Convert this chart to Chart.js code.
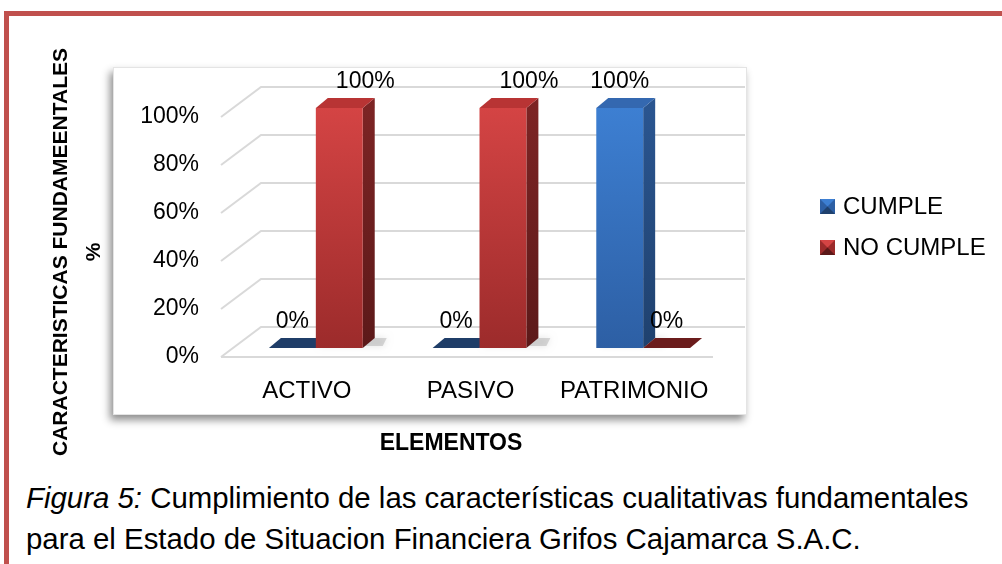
<!DOCTYPE html>
<html>
<head>
<meta charset="utf-8">
<script src="https://cdn.jsdelivr.net/npm/chart.js@4.4.1/dist/chart.umd.min.js"></script>
<style>
  html, body { margin: 0; padding: 0; background: #fff; }
  body { width: 1002px; height: 564px; position: relative; overflow: hidden; font-family: "Liberation Sans", Arial, sans-serif; }
  #frame { position: absolute; left: 4px; top: 11px; width: 1100px; height: 700px; border-top: 5px solid #c0504d; border-left: 5px solid #c0504d; }
  #chart-wrap { position: absolute; left: 0; top: 0; width: 1002px; height: 470px; }
  #caption { position: absolute; left: 26px; top: 477px; font-size: 29.4px; line-height: 41px; color: #000; white-space: nowrap; }
</style>
</head>
<body>
<div id="frame"></div>
<div id="chart-wrap"><canvas id="elementos-chart" width="1002" height="470"></canvas></div>
<div id="caption"><i>Figura 5:</i> Cumplimiento de las características cualitativas fundamentales<br>para el Estado de Situacion Financiera Grifos Cajamarca S.A.C.</div>

<script>
const categories = ['ACTIVO', 'PASIVO', 'PATRIMONIO'];
const seriesNames = ['CUMPLE', 'NO CUMPLE'];
const cumpleValues = [0, 0, 100];
const noCumpleValues = [100, 100, 0];
const yTicks = [0, 20, 40, 60, 80, 100];
const yTitle = 'CARACTERISTICAS FUNDAMEENTALES';
const xTitle = 'ELEMENTOS';

const FONT = '"Liberation Sans", Arial, sans-serif';
Chart.defaults.font.family = FONT;

// look of the fake 3d
const SHIFT = { x: 9, y: -9 };      // bars sit a bit behind the front floor edge
const DEPTH = { x: 12, y: -10 };    // bar depth
const BACK = { x: 40, y: -30 };     // back wall offset

const palette = [
    { top: '#3d7fd2', bottom: '#2d5fa4', side: ['#2a5590', '#1f416e'], cap: '#3468b0', flat: '#1f3d68' },
    { top: '#d44444', bottom: '#9c2b2b', side: ['#7c2424', '#5c1919'], cap: '#b83434', flat: '#6b1c1c' }
];

function frontFill(idx) {
    return (c) => {
        const area = c.chart.chartArea;
        if (!area) return palette[idx].top;
        const g = c.chart.ctx.createLinearGradient(0, area.top, 0, area.bottom);
        g.addColorStop(0, palette[idx].top);
        g.addColorStop(1, palette[idx].bottom);
        return g;
    };
}

function poly(ctx, pts, fill) {
    ctx.beginPath();
    ctx.moveTo(pts[0][0], pts[0][1]);
    for (let i = 1; i < pts.length; i++) ctx.lineTo(pts[i][0], pts[i][1]);
    ctx.closePath();
    ctx.fillStyle = fill;
    ctx.fill();
}

const box3d = {
    id: 'box3d',
    beforeDraw(chart) {
        const ctx = chart.ctx;
        const area = chart.chartArea;
        const y = chart.scales.y;

        // plot box with its shadow
        ctx.save();
        ctx.shadowColor = 'rgba(0,0,0,0.45)';
        ctx.shadowBlur = 8;
        ctx.shadowOffsetX = -3;
        ctx.shadowOffsetY = 5;
        ctx.fillStyle = '#fff';
        ctx.fillRect(113, 67, 634, 348);
        ctx.restore();
        ctx.strokeStyle = '#e4e4e4';
        ctx.lineWidth = 1;
        ctx.strokeRect(113.5, 67.5, 633, 347);

        // back wall grid lines
        const x0 = area.left - 4;
        ctx.save();
        ctx.strokeStyle = '#d9d9d9';
        ctx.lineWidth = 2;
        yTicks.forEach(v => {
            const py = y.getPixelForValue(v);
            ctx.beginPath();
            ctx.moveTo(x0, py);
            ctx.lineTo(x0 + BACK.x, py + BACK.y);
            ctx.lineTo(745, py + BACK.y);
            ctx.stroke();
        });
        // floor front edge
        const p0 = y.getPixelForValue(0);
        ctx.beginPath();
        ctx.moveTo(x0, p0);
        ctx.lineTo(area.right - 3, p0);
        ctx.stroke();
        ctx.restore();
    },
    beforeDatasetsDraw(chart) {
        const ctx = chart.ctx;
        ctx.save();
        ctx.translate(SHIFT.x, SHIFT.y);
        // top and side faces first, chart draws the front faces over them
        chart.data.datasets.forEach((ds, di) => {
            const meta = chart.getDatasetMeta(di);
            meta.data.forEach((bar, i) => {
                const p = bar.getProps(['x', 'y', 'base', 'width'], true);
                const l = p.x - p.width / 2, r = p.x + p.width / 2;
                const top = Math.min(p.y, p.base), bot = p.base;
                const col = palette[di];
                if (ds.data[i] === 0) {
                    poly(ctx, [[l, bot], [r, bot], [r + DEPTH.x, bot + DEPTH.y], [l + DEPTH.x, bot + DEPTH.y]], col.flat);
                    return;
                }
                // soft shadow on the floor
                ctx.save();
                ctx.shadowColor = 'rgba(0,0,0,0.3)';
                ctx.shadowBlur = 7;
                poly(ctx, [[l + 4, bot - 2], [r + DEPTH.x + 8, bot - 2], [r + DEPTH.x + 12, bot + DEPTH.y], [l + 8, bot + DEPTH.y]], 'rgba(150,150,150,0.35)');
                ctx.restore();
                const g = ctx.createLinearGradient(0, top, 0, bot);
                g.addColorStop(0, col.side[0]);
                g.addColorStop(1, col.side[1]);
                poly(ctx, [[r, top], [r + DEPTH.x, top + DEPTH.y], [r + DEPTH.x, bot + DEPTH.y], [r, bot]], g);
                poly(ctx, [[l, top], [r, top], [r + DEPTH.x, top + DEPTH.y], [l + DEPTH.x, top + DEPTH.y]], col.cap);
            });
        });
    },
    afterDatasetsDraw(chart) {
        const ctx = chart.ctx;
        ctx.restore();

        // value labels
        ctx.save();
        ctx.fillStyle = '#000';
        ctx.font = '23px ' + FONT;
        ctx.textAlign = 'center';
        ctx.textBaseline = 'middle';
        chart.data.datasets.forEach((ds, di) => {
            chart.getDatasetMeta(di).data.forEach((bar, i) => {
                const v = ds.data[i];
                const dx = (di === 1 && v > 0) ? 26 : 0;
                ctx.fillText(v + '%', bar.x + SHIFT.x + dx, bar.y + SHIFT.y - 26);
            });
        });
        ctx.restore();
    },
    afterDraw(chart) {
        const ctx = chart.ctx;
        ctx.save();
        ctx.fillStyle = '#000';
        ctx.textAlign = 'center';
        ctx.textBaseline = 'middle';

        // axis titles
        ctx.font = 'bold 23px ' + FONT;
        ctx.fillText(xTitle, 451, 444);

        ctx.save();
        ctx.translate(61, 252);
        ctx.rotate(-Math.PI / 2);
        ctx.font = 'bold 21px ' + FONT;
        ctx.fillText(yTitle, 0, 0);
        ctx.fillText('%', 0, 33);
        ctx.restore();

        // legend
        ctx.textAlign = 'left';
        ctx.font = '24px ' + FONT;
        chart.data.datasets.forEach((ds, di) => {
            const sx = 820, sy = 199 + di * 41, s = 15;
            const col = palette[di];
            ctx.fillStyle = col.bottom;
            ctx.fillRect(sx, sy, s, s);
            poly(ctx, [[sx, sy], [sx + s, sy], [sx + s / 2, sy + s / 2]], col.top);
            poly(ctx, [[sx, sy + s], [sx + s, sy + s], [sx + s / 2, sy + s / 2]], col.side[1]);
            ctx.fillStyle = '#000';
            ctx.fillText(ds.label, 843, sy + 8);
        });
        ctx.restore();
    }
};

new Chart(document.getElementById('elementos-chart'), {
    type: 'bar',
    data: {
        labels: categories,
        datasets: [
            { label: seriesNames[0], data: cumpleValues, backgroundColor: frontFill(0), categoryPercentage: 0.573, barPercentage: 1 },
            { label: seriesNames[1], data: noCumpleValues, backgroundColor: frontFill(1), categoryPercentage: 0.573, barPercentage: 1 }
        ]
    },
    options: {
        responsive: false,
        animation: false,
        layout: { padding: { left: 40, top: 117, right: 286, bottom: 53 } },
        plugins: {
            legend: { display: false },
            tooltip: { enabled: false }
        },
        scales: {
            x: {
                grid: { display: false, drawTicks: false },
                border: { display: false },
                ticks: { color: '#000', font: { size: 24 }, padding: 20 },
                afterFit(s) { s.height = 60; }
            },
            y: {
                min: 0,
                max: 100,
                grid: { display: false, drawTicks: false },
                border: { display: false },
                ticks: { stepSize: 20, color: '#000', font: { size: 23 }, padding: 26, callback: v => v + '%' },
                afterFit(s) { s.width = 185; }
            }
        }
    },
    plugins: [box3d]
});
</script>
</body>
</html>
